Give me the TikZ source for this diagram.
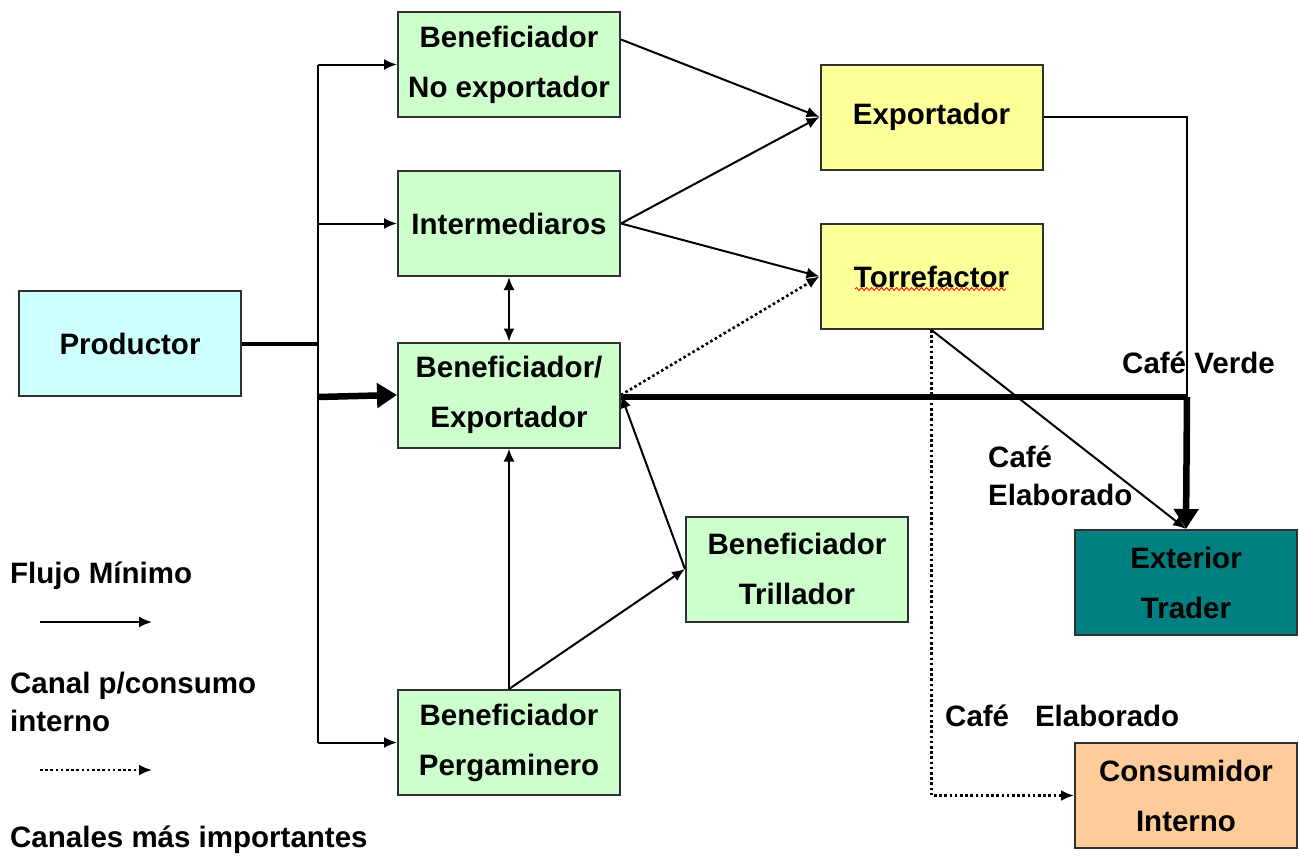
\documentclass[tikz,border=0pt]{standalone}
\usepackage{fontspec}
\setmainfont{Liberation Sans}
\usetikzlibrary{arrows.meta,decorations.pathmorphing}
\definecolor{boxgreen}{HTML}{CCFFCC}
\definecolor{boxyellow}{HTML}{FFFF99}
\definecolor{boxcyan}{HTML}{CCFFFF}
\definecolor{boxteal}{HTML}{008080}
\definecolor{boxorange}{HTML}{FFCC99}
\definecolor{edgegray}{HTML}{303030}
\tikzset{
  box/.style={draw=edgegray, line width=2pt, minimum width=222pt, minimum height=105pt,
    inner sep=0pt, align=center, font=\fontsize{29.5}{50}\selectfont\bfseries},
  lbl/.style={anchor=west, inner sep=0pt, align=left, font=\fontsize{29.5}{38}\selectfont\bfseries},
  thin/.style={line width=2pt, black},
  arr/.style={thin, -{Latex[length=13pt,width=11pt]}},
  darr/.style={thin, {Latex[length=13pt,width=11pt]}-{Latex[length=13pt,width=11pt]}},
  dotarr/.style={line width=2.6pt, dash pattern=on 2.6pt off 2.6pt, -{Latex[length=13pt,width=11pt]}},
  thick line/.style={line width=4pt, black},
  heavy/.style={line width=6.5pt, black},
  heavyarr/.style={line width=6.5pt, black, -{Triangle[length=20pt,width=24pt]}},
}
\begin{document}
\begin{tikzpicture}[x=1pt,y=-1pt]
\useasboundingbox[fill=white] (0,0) rectangle (1299,860);

% nodes
\node[box, fill=boxcyan] (prod) at (130,343.5) {Productor};
\node[box, fill=boxgreen] (bne) at (509,64.5) {Beneficiador\\No exportador};
\node[box, fill=boxgreen] (inter) at (509,223.5) {Intermediaros};
\node[box, fill=boxgreen] (be) at (509,395) {Beneficiador/\\Exportador};
\node[box, fill=boxgreen] (bp) at (509,742.5) {Beneficiador\\Pergaminero};
\node[box, fill=boxgreen] (tril) at (797,569) {Beneficiador\\Trillador};
\node[box, fill=boxyellow] (exp) at (931.5,117) {Exportador};
\node[box, fill=boxyellow] (tor) at (931.5,276.5) {Torrefactor};
\node[box, fill=boxteal] (ext) at (1186,582.5) {Exterior\\Trader};
\node[box, fill=boxorange] (cons) at (1186,795.5) {Consumidor\\Interno};

% spell-check underline under Torrefactor
\draw[red, line width=0.8pt, decorate, decoration={snake, amplitude=1.5pt, segment length=5pt}]
  (855,289) -- (1006,289);

% labels
\node[lbl] (lfm) at (10,576) {Flujo Mínimo};
\node[lbl] (lcp) at (10,702) {Canal p/consumo\\interno};
\node[lbl] (lcm) at (10,840) {Canales más importantes};
\node[lbl] (lcv) at (1122,363) {Café Verde};
\node[lbl] (lce) at (988,476) {Café\\Elaborado};
\node[lbl] (lce2) at (945,716) {Café\hspace{0.6em} Elaborado};

% coordinates
\coordinate (jp) at (318,343.5);
\coordinate (jt) at (318,64.5);
\coordinate (ji) at (318,223.5);
\coordinate (jb) at (318,397);
\coordinate (jbp) at (318,742.5);
\coordinate (ce) at (1187,117);
\coordinate (cb) at (1187,397);
\coordinate (lg1a) at (40,622);
\coordinate (lg1b) at (152,622);
\coordinate (lg2a) at (40,770);
\coordinate (lg2b) at (152,770);

% productor distribution
\draw[thick line] (prod.east) -- (jp);
\draw[thin] (jt) -- (jbp);
\draw[arr] (jt) -- (bne.west);
\draw[arr] (ji) -- (inter.west);
\draw[arr] (jbp) -- (bp.west);
\draw[heavyarr] (jb) -- (be.west);

% to exportador / torrefactor
\draw[arr] ([yshift=25pt]bne.east) -- (exp.west);
\draw[arr] (inter.east) -- (exp.west);
\draw[arr] (inter.east) -- (tor.west);
\draw[dotarr] (be.east) -- (tor.west);

% vertical links
\draw[darr] (inter.south) -- (be.north);
\draw[arr] (bp.north) -- (be.south);
\draw[arr] (bp.north) -- (tril.west);
\draw[arr] (tril.west) -- (be.east);

% main export channel
\draw[thin] (exp.east) -- (ce) -- (cb);
\draw[heavy] (be.east |- cb) -- (cb);
\draw[heavyarr] (cb) -- (ext.north);

% torrefactor outputs
\draw[arr] (tor.south) -- (ext.north);
\draw[dotarr] (tor.south) -- (tor.south |- cons.west) -- (cons.west);

% legend
\draw[arr] (lg1a) -- (lg1b);
\draw[dotarr] (lg2a) -- (lg2b);
\end{tikzpicture}
\end{document}
